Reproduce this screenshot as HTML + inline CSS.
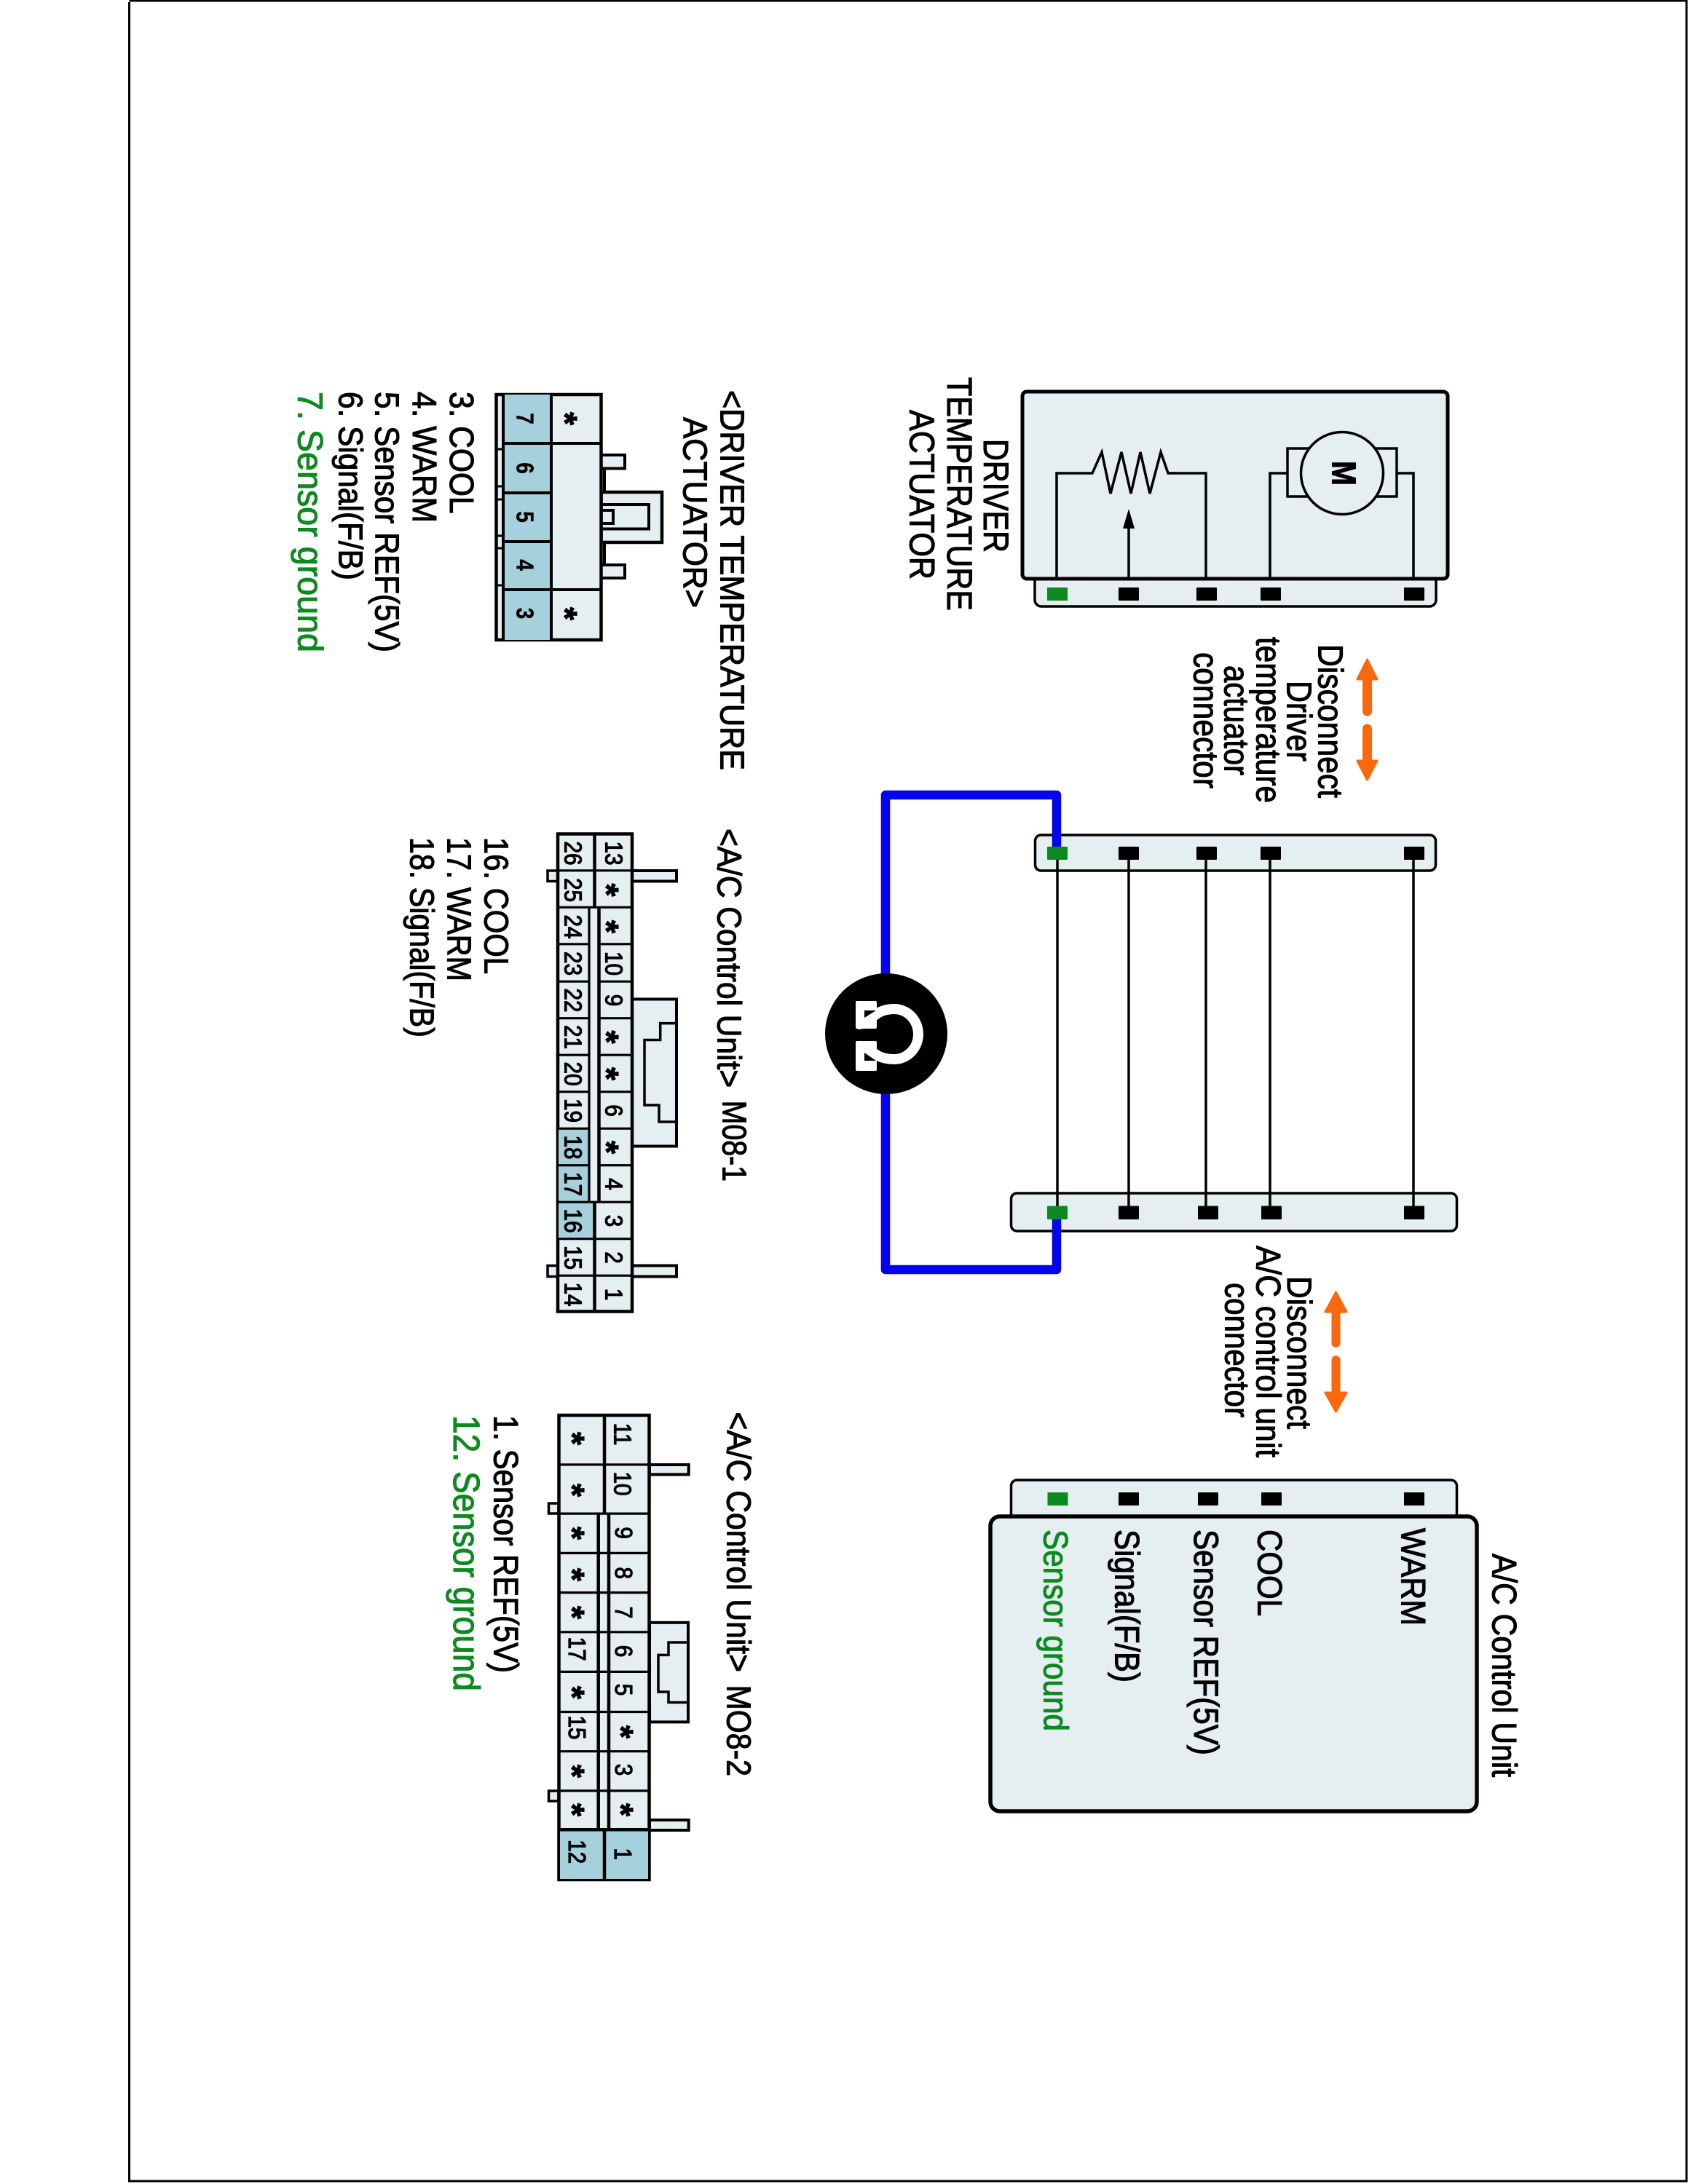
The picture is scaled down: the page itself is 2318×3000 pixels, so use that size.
<!DOCTYPE html>
<html>
<head>
<meta charset="utf-8">
<style>
html,body{margin:0;padding:0;background:#fff}
svg{display:block}
text{font-family:"Liberation Sans",sans-serif;fill:#000;stroke:#000;stroke-width:1.1px}
text.g{fill:#0d8a1f;stroke:#0d8a1f}
.n{font-size:33px;text-anchor:middle;stroke-width:1.2px}
.b{font-size:33px;text-anchor:middle;font-weight:bold;stroke-width:.4px}
.s{font-size:46px;text-anchor:middle;font-weight:bold}
.l{fill:none;stroke:#000}
.p{fill:#e5eef0;stroke:#000}
</style>
</head>
<body>
<svg xmlns="http://www.w3.org/2000/svg" width="2318" height="3000" viewBox="0 0 2318 3000">
<rect width="2318" height="3000" fill="#fff"/>
<!-- frame -->
<path d="M177.5 3V2996H2316V1H177.5" class="l" stroke-width="3"/>

<!-- top actuator -->
<rect x="1421" y="780" width="551" height="53" rx="9" class="p" stroke-width="3.5"/>
<rect x="1404" y="538" width="584" height="257" rx="6" class="p" stroke-width="5"/>
<path d="M1451 795V650H1500L1513 621L1525 678L1540 621L1553 678L1566 621L1579 678L1594 621L1604 650H1656V795" class="l" stroke-width="3.5"/>
<path d="M1550 795V720" class="l" stroke-width="3.5"/>
<path d="M1550 699L1558 726H1542Z"/>
<path d="M1744 795V650H1768M1941 795V650H1918" class="l" stroke-width="3.5"/>
<rect x="1768" y="616" width="150" height="66" class="p" stroke-width="3.5"/>
<circle cx="1843" cy="650" r="56.5" class="p" stroke-width="3.5"/>
<text transform="translate(1829.5,650)rotate(90)" font-size="46" font-weight="bold" text-anchor="middle" textLength="34" lengthAdjust="spacingAndGlyphs">M</text>
<rect x="1438" y="807" width="28" height="18" fill="#0d8a1f"/>
<rect x="1536" y="807" width="28" height="18" rx="1"/>
<rect x="1643" y="807" width="28" height="18" rx="1"/>
<rect x="1731" y="807" width="28" height="18" rx="1"/>
<rect x="1928" y="807" width="28" height="18" rx="1"/>

<text transform="translate(1351,603)rotate(90)" font-size="48" textLength="156" lengthAdjust="spacingAndGlyphs">DRIVER</text>
<text transform="translate(1301,518)rotate(90)" font-size="48" textLength="321" lengthAdjust="spacingAndGlyphs">TEMPERATURE</text>
<text transform="translate(1249.5,563)rotate(90)" font-size="48" textLength="233" lengthAdjust="spacingAndGlyphs">ACTUATOR</text>

<!-- orange arrows 1 -->
<path d="M1877.5 906L1891 933H1882.5V977a5 5 0 0 1-10 0V933H1864Z" fill="#f9670f" stroke="#f9670f" stroke-width="3" stroke-linejoin="round"/>
<path d="M1877.5 1071L1891 1045H1882.5V1001a5 5 0 0 0-10 0V1045H1864Z" fill="#f9670f" stroke="#f9670f" stroke-width="3" stroke-linejoin="round"/>
<text transform="translate(1810.5,885)rotate(90)" font-size="48" textLength="211" lengthAdjust="spacingAndGlyphs">Disconnect</text>
<text transform="translate(1767.5,935)rotate(90)" font-size="48" textLength="111" lengthAdjust="spacingAndGlyphs">Driver</text>
<text transform="translate(1725.5,875)rotate(90)" font-size="48" textLength="228" lengthAdjust="spacingAndGlyphs">temperature</text>
<text transform="translate(1681.5,914)rotate(90)" font-size="48" textLength="151" lengthAdjust="spacingAndGlyphs">actuator</text>
<text transform="translate(1639.5,896)rotate(90)" font-size="48" textLength="187" lengthAdjust="spacingAndGlyphs">connector</text>

<!-- middle strips -->
<rect x="1421.5" y="1147" width="550" height="49" rx="8" class="p" stroke-width="3.5"/>
<rect x="1388.5" y="1639" width="612" height="52" rx="8" class="p" stroke-width="3.5"/>
<!-- blue wire -->
<path d="M1451 1172V1092H1216V1744H1451V1665" fill="none" stroke="#0404f0" stroke-width="12.5" stroke-linejoin="round"/>
<!-- black wires -->
<path d="M1452 1172V1665M1550 1172V1665M1656 1172V1665M1744 1172V1665M1941 1172V1665" class="l" stroke-width="3.5"/>
<g fill="#0d8a1f"><rect x="1438" y="1163" width="28" height="18" rx="1"/><rect x="1438" y="1656.5" width="28" height="18.5" rx="1"/></g>
<rect x="1536" y="1163" width="28" height="18" rx="1"/>
<rect x="1643" y="1163" width="28" height="18" rx="1"/>
<rect x="1731" y="1163" width="28" height="18" rx="1"/>
<rect x="1928" y="1163" width="28" height="18" rx="1"/>
<rect x="1536" y="1656.5" width="28" height="18.5" rx="1"/>
<rect x="1645" y="1656.5" width="28" height="18.5" rx="1"/>
<rect x="1732" y="1656.5" width="28" height="18.5" rx="1"/>
<rect x="1928" y="1656.5" width="28" height="18.5" rx="1"/>

<!-- ohmmeter -->
<ellipse cx="1217" cy="1420" rx="84" ry="83"/>
<path d="M1178 1407C1197 1407 1198 1386 1228 1386A33 34.5 0 0 1 1228 1455C1198 1455 1197 1437 1178 1437" fill="none" stroke="#fff" stroke-width="14"/>
<rect x="1175" y="1375" width="29" height="38" rx="2" fill="#fff"/>
<rect x="1175" y="1430" width="29" height="41" rx="2" fill="#fff"/>
<path d="M1187 1388H1203L1187 1398Z"/>
<path d="M1187 1446V1457H1203Z"/>

<!-- orange arrows 2 -->
<path d="M1834.5 1775L1849 1802H1839V1845a4.5 4.5 0 0 1-9 0V1802H1820Z" fill="#f9670f" stroke="#f9670f" stroke-width="3" stroke-linejoin="round"/>
<path d="M1834.5 1939L1849 1913H1839V1868a4.5 4.5 0 0 0-9 0V1913H1820Z" fill="#f9670f" stroke="#f9670f" stroke-width="3" stroke-linejoin="round"/>
<text transform="translate(1768,1753)rotate(90)" font-size="47" textLength="210" lengthAdjust="spacingAndGlyphs">Disconnect</text>
<text transform="translate(1725.5,1711)rotate(90)" font-size="47" textLength="291" lengthAdjust="spacingAndGlyphs">A/C control unit</text>
<text transform="translate(1682.5,1762)rotate(90)" font-size="47" textLength="185" lengthAdjust="spacingAndGlyphs">connector</text>

<!-- A/C control unit -->
<rect x="1388.5" y="2033" width="612" height="70" rx="8" class="p" stroke-width="3.5"/>
<rect x="1438.5" y="2050" width="28" height="18" fill="#0d8a1f"/>
<rect x="1536" y="2050" width="28" height="18" rx="1"/>
<rect x="1645" y="2050" width="28" height="18" rx="1"/>
<rect x="1732" y="2050" width="28" height="18" rx="1"/>
<rect x="1928" y="2050" width="28" height="18" rx="1"/>
<rect x="1360" y="2083" width="668" height="405" rx="13" class="p" stroke-width="5.5"/>
<text class="g" transform="translate(1433.5,2101)rotate(90)" font-size="47" textLength="277" lengthAdjust="spacingAndGlyphs">Sensor ground</text>
<text transform="translate(1531.5,2101)rotate(90)" font-size="47" textLength="210" lengthAdjust="spacingAndGlyphs">Signal(F/B)</text>
<text transform="translate(1640,2101)rotate(90)" font-size="47" textLength="310" lengthAdjust="spacingAndGlyphs">Sensor REF(5V)</text>
<text transform="translate(1727.5,2101)rotate(90)" font-size="47" textLength="119" lengthAdjust="spacingAndGlyphs">COOL</text>
<text transform="translate(1924.5,2099)rotate(90)" font-size="47" textLength="134" lengthAdjust="spacingAndGlyphs">WARM</text>
<text transform="translate(2049.5,2134)rotate(90)" font-size="47" textLength="307" lengthAdjust="spacingAndGlyphs">A/C Control Unit</text>

<!-- DRIVER TEMPERATURE ACTUATOR connector -->
<text transform="translate(989.5,536)rotate(90)" font-size="46" textLength="522" lengthAdjust="spacingAndGlyphs">&lt;DRIVER TEMPERATURE</text>
<text transform="translate(938.5,573)rotate(90)" font-size="46" textLength="262" lengthAdjust="spacingAndGlyphs">ACTUATOR&gt;</text>
<rect x="825.5" y="625" width="32.5" height="18.5" class="p" stroke-width="4"/>
<rect x="825.5" y="776" width="32.5" height="18" class="p" stroke-width="4"/>
<path d="M830 643V676M830 745V776" class="l" stroke-width="4"/>
<rect x="825.5" y="676" width="83.5" height="69" class="p" stroke-width="4.5"/>
<path d="M825.5 693H891V726.5H825.5M825.5 701H842V719H825.5" fill="none" stroke="#000" stroke-width="4"/>
<rect x="681.5" y="542" width="144" height="337" class="p" stroke-width="4.5"/>
<rect x="691" y="542" width="66" height="337" fill="#a5d0dc"/>
<path d="M691 542V879M757 542V879M691 609H825.5M691 677H757M691 744H757M691 810H825.5" class="l" stroke-width="4"/>
<path d="M681 617H691M681 668H691M681 686H691M681 736H691M681 753H691M681 804H691" class="l" stroke-width="3"/>
<text class="b" transform="translate(709.5,575)rotate(90)scale(.85,1)">7</text>
<text class="b" transform="translate(709.5,643)rotate(90)scale(.85,1)">6</text>
<text class="b" transform="translate(709.5,710)rotate(90)scale(.85,1)">5</text>
<text class="b" transform="translate(709.5,776)rotate(90)scale(.85,1)">4</text>
<text class="b" transform="translate(709.5,842.5)rotate(90)scale(.85,1)">3</text>
<text class="s" transform="translate(760,575)rotate(90)">*</text>
<text class="s" transform="translate(760,843)rotate(90)">*</text>
<text transform="translate(618,538)rotate(90)" font-size="46" textLength="167.5" lengthAdjust="spacingAndGlyphs">3. COOL</text>
<text transform="translate(567,538)rotate(90)" font-size="46" textLength="180" lengthAdjust="spacingAndGlyphs">4. WARM</text>
<text transform="translate(515.5,538)rotate(90)" font-size="46" textLength="358" lengthAdjust="spacingAndGlyphs">5. Sensor REF(5V)</text>
<text transform="translate(465.5,538)rotate(90)" font-size="46" textLength="259" lengthAdjust="spacingAndGlyphs">6. Signal(F/B)</text>
<text class="g" transform="translate(409.5,538)rotate(90)" font-size="48" textLength="358" lengthAdjust="spacingAndGlyphs">7. Sensor ground</text>

<!-- M08-1 connector -->
<text transform="translate(985.5,1138)rotate(90)" font-size="46" textLength="356" lengthAdjust="spacingAndGlyphs">&lt;A/C Control Unit&gt;</text>
<text transform="translate(992.5,1511.6)rotate(90)" font-size="46" textLength="111.4" lengthAdjust="spacingAndGlyphs">M08-1</text>
<rect x="868" y="1196" width="61" height="14.5" class="p" stroke-width="4"/>
<rect x="868" y="1738.5" width="61" height="15" class="p" stroke-width="4"/>
<rect x="752" y="1196" width="14" height="14.5" class="p" stroke-width="3.5"/>
<rect x="752" y="1738.5" width="14" height="15" class="p" stroke-width="3.5"/>
<rect x="868" y="1372.5" width="61" height="202" class="p" stroke-width="4"/>
<path d="M927 1405.6H906.7V1428.5H885V1518H905V1541H927" class="l" stroke-width="3.5"/>
<rect x="766" y="1145.5" width="102" height="656" class="p" stroke-width="4.5"/>
<rect x="767" y="1550" width="42" height="101" fill="#a5d0dc"/>
<rect x="767" y="1651" width="49" height="51" fill="#a5d0dc"/>
<path d="M765 1195.8H868M765 1246.3H868M765 1296.8H809M823 1296.8H868M765 1348.2H809M823 1348.2H868M765 1398.7H809M823 1398.7H868M765 1449.2H809M823 1449.2H868M765 1499.7H809M823 1499.7H868M765 1550.2H809M823 1550.2H868M765 1600.7H809M823 1600.7H868M765 1651.2H868M765 1701.7H868M765 1752.2H868" class="l" stroke-width="3.2"/>
<path d="M816.5 1145V1246M816.5 1651V1802M822.5 1246V1651" class="l" stroke-width="4.5"/>
<path d="M809 1246V1651" class="l" stroke-width="3.2"/>
<text class="n" transform="translate(775.7,1172)rotate(90)scale(.9,1)">26</text>
<text class="n" transform="translate(775.7,1222.5)rotate(90)scale(.9,1)">25</text>
<text class="n" transform="translate(775.7,1273)rotate(90)scale(.9,1)">24</text>
<text class="n" transform="translate(775.7,1323.5)rotate(90)scale(.9,1)">23</text>
<text class="n" transform="translate(775.7,1374)rotate(90)scale(.9,1)">22</text>
<text class="n" transform="translate(775.7,1424.5)rotate(90)scale(.9,1)">21</text>
<text class="n" transform="translate(775.7,1475)rotate(90)scale(.9,1)">20</text>
<text class="n" transform="translate(775.7,1525.5)rotate(90)scale(.9,1)">19</text>
<text class="n" transform="translate(775.7,1576)rotate(90)scale(.9,1)">18</text>
<text class="n" transform="translate(775.7,1626.5)rotate(90)scale(.9,1)">17</text>
<text class="n" transform="translate(775.7,1677)rotate(90)scale(.9,1)">16</text>
<text class="n" transform="translate(775.7,1727.5)rotate(90)scale(.9,1)">15</text>
<text class="n" transform="translate(775.7,1778)rotate(90)scale(.9,1)">14</text>
<text class="n" transform="translate(831.7,1172)rotate(90)scale(.9,1)">13</text>
<text class="s" transform="translate(817,1222.5)rotate(90)">*</text>
<text class="s" transform="translate(817,1273)rotate(90)">*</text>
<text class="n" transform="translate(831.7,1323.5)rotate(90)scale(.9,1)">10</text>
<text class="n" transform="translate(831.7,1374)rotate(90)scale(.9,1)">9</text>
<text class="s" transform="translate(817,1424.5)rotate(90)">*</text>
<text class="s" transform="translate(817,1475)rotate(90)">*</text>
<text class="n" transform="translate(831.7,1525.5)rotate(90)scale(.9,1)">6</text>
<text class="s" transform="translate(817,1576)rotate(90)">*</text>
<text class="n" transform="translate(831.7,1626.5)rotate(90)scale(.9,1)">4</text>
<text class="n" transform="translate(831.7,1677)rotate(90)scale(.9,1)">3</text>
<text class="n" transform="translate(831.7,1727.5)rotate(90)scale(.9,1)">2</text>
<text class="n" transform="translate(831.7,1778)rotate(90)scale(.9,1)">1</text>
<text transform="translate(665.5,1150)rotate(90)" font-size="46" textLength="188" lengthAdjust="spacingAndGlyphs">16. COOL</text>
<text transform="translate(614.5,1150)rotate(90)" font-size="46" textLength="198" lengthAdjust="spacingAndGlyphs">17. WARM</text>
<text transform="translate(563.5,1150)rotate(90)" font-size="46" textLength="275" lengthAdjust="spacingAndGlyphs">18. Signal(F/B)</text>

<!-- M08-2 connector -->
<text transform="translate(998.5,1939.5)rotate(90)" font-size="46" textLength="357.5" lengthAdjust="spacingAndGlyphs">&lt;A/C Control Unit&gt;</text>
<text transform="translate(998.5,2314.6)rotate(90)" font-size="46" textLength="125.4" lengthAdjust="spacingAndGlyphs">MO8-2</text>
<rect x="892" y="2012" width="53.7" height="13.4" class="p" stroke-width="4"/>
<rect x="892" y="2500" width="53.7" height="14" class="p" stroke-width="4"/>
<rect x="753.5" y="2065" width="13.5" height="14" class="p" stroke-width="3.5"/>
<rect x="753.5" y="2460" width="13.5" height="14" class="p" stroke-width="3.5"/>
<rect x="892" y="2228.8" width="53" height="136.6" class="p" stroke-width="4"/>
<path d="M943 2256H918V2273.4H904V2324H918V2338.5H943" class="l" stroke-width="3.5"/>
<rect x="767.5" y="1944" width="124" height="638" class="p" stroke-width="4.5"/>
<rect x="769" y="2513" width="60" height="68" fill="#a5d0dc"/>
<rect x="831" y="2513" width="59" height="68" fill="#a5d0dc"/>
<path d="M767 2011.9H892M767 2079.1H892M767 2133.4H892M767 2187.6H892M767 2241.8H892M767 2296.4H892M767 2351.5H892M767 2405.7H892M767 2459.9H892" class="l" stroke-width="3.2"/>
<path d="M767 2513.2H892M830 1944V2079M830 2513V2582M821.7 2079V2513M836 2079V2513" class="l" stroke-width="4.5"/>
<text class="n" transform="translate(843.5,1970)rotate(90)scale(.9,1)">11</text>
<text class="n" transform="translate(843.5,2038)rotate(90)scale(.9,1)">10</text>
<text class="n" transform="translate(845,2105.6)rotate(90)scale(.9,1)">9</text>
<text class="n" transform="translate(845,2160.7)rotate(90)scale(.9,1)">8</text>
<text class="n" transform="translate(845,2215)rotate(90)scale(.9,1)">7</text>
<text class="n" transform="translate(845,2268)rotate(90)scale(.9,1)">6</text>
<text class="n" transform="translate(845,2321)rotate(90)scale(.9,1)">5</text>
<text class="s" transform="translate(837,2379)rotate(90)">*</text>
<text class="n" transform="translate(845,2431)rotate(90)scale(.9,1)">3</text>
<text class="s" transform="translate(837,2486)rotate(90)">*</text>
<text class="n" transform="translate(844,2546.6)rotate(90)scale(.9,1)">1</text>
<text class="s" transform="translate(770,1976)rotate(90)">*</text>
<text class="s" transform="translate(770,2047)rotate(90)">*</text>
<text class="s" transform="translate(770,2106)rotate(90)">*</text>
<text class="s" transform="translate(770,2163)rotate(90)">*</text>
<text class="s" transform="translate(770,2215)rotate(90)">*</text>
<text class="n" transform="translate(781,2265)rotate(90)scale(.9,1)">17</text>
<text class="s" transform="translate(770,2325)rotate(90)">*</text>
<text class="n" transform="translate(781,2373)rotate(90)scale(.9,1)">15</text>
<text class="s" transform="translate(770,2433)rotate(90)">*</text>
<text class="s" transform="translate(770,2486)rotate(90)">*</text>
<text class="n" transform="translate(781,2543.6)rotate(90)scale(.9,1)">12</text>
<text transform="translate(678.5,1944)rotate(90)" font-size="47" textLength="354" lengthAdjust="spacingAndGlyphs">1. Sensor REF(5V)</text>
<text class="g" transform="translate(623,1944)rotate(90)" font-size="51" textLength="379" lengthAdjust="spacingAndGlyphs">12. Sensor ground</text>
</svg>
</body>
</html>
